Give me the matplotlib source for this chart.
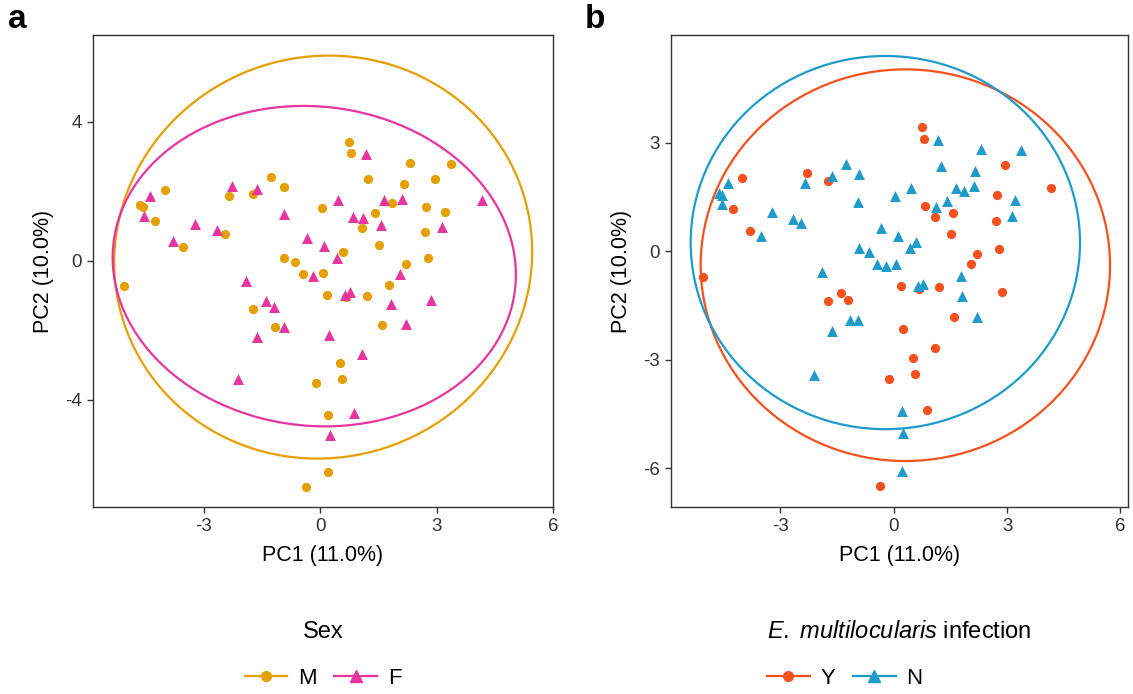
import matplotlib
matplotlib.use("Agg")
import matplotlib.pyplot as plt
from matplotlib.patches import Ellipse
from matplotlib.lines import Line2D

plt.rcParams['font.family'] = ['Liberation Sans', 'DejaVu Sans']
plt.rcParams['mathtext.fontset'] = 'custom'
plt.rcParams['mathtext.rm'] = 'Liberation Sans'
plt.rcParams['mathtext.it'] = 'Liberation Sans:italic'
plt.rcParams['axes.unicode_minus'] = False

# PCA scores (same samples in both panels)
pc1 = [-4.38, -4.00, -4.63, -4.55, -4.53, -4.25, -3.22, -3.80, -3.52, -2.28,
       -2.35, -1.62, -1.73, -1.27, -0.92, -2.65, -2.44, -0.94, 0.04, -0.34,
       0.11, -0.92, -0.64, -0.45, -0.19, 0.07, -1.90, 0.75, 0.79, 1.18,
       2.31, 3.36, 2.95, 1.24, 2.16, 0.47, 1.65, 1.86, 2.12, 2.74,
       3.21, 4.16, 1.41, 0.84, 1.11, 1.09, 1.56, 2.71, 3.14, 1.51,
       0.58, 0.43, 2.78, 2.21, 2.05, 1.77, 0.19, 0.67, 0.65, 0.78,
       1.21, 1.82, 2.86, 1.60, 2.21, 0.24, 1.09, 0.51, 0.56, -0.11,
       0.21, 0.88, 0.26, 0.21, -0.37, -5.04, -1.39, -1.20, -1.74, -1.15,
       -0.94, -1.62, -2.11]
pc2 = [1.88, 2.03, 1.61, 1.56, 1.29, 1.15, 1.07, 0.56, 0.41, 2.16,
       1.87, 2.08, 1.93, 2.41, 2.14, 0.90, 0.77, 1.36, 1.51, 0.65,
       0.42, 0.08, -0.02, -0.37, -0.42, -0.35, -0.57, 3.42, 3.10, 3.08,
       2.82, 2.80, 2.37, 2.36, 2.21, 1.74, 1.74, 1.67, 1.79, 1.56,
       1.40, 1.75, 1.39, 1.25, 1.23, 0.94, 1.04, 0.84, 0.98, 0.46,
       0.25, 0.08, 0.07, -0.08, -0.37, -0.69, -0.97, -1.05, -0.97, -0.90,
       -1.00, -1.23, -1.12, -1.83, -1.81, -2.14, -2.68, -2.95, -3.39, -3.52,
       -4.43, -4.38, -5.02, -6.08, -6.50, -0.72, -1.16, -1.34, -1.39, -1.89,
       -1.91, -2.20, -3.41]
sex = ['F', 'M', 'M', 'M', 'F', 'M', 'F', 'F', 'M', 'F',
       'M', 'F', 'M', 'M', 'M', 'F', 'M', 'F', 'M', 'F',
       'F', 'M', 'M', 'M', 'F', 'M', 'F', 'M', 'M', 'F',
       'M', 'M', 'M', 'M', 'M', 'F', 'F', 'M', 'F', 'M',
       'M', 'F', 'M', 'F', 'F', 'M', 'F', 'M', 'F', 'M',
       'M', 'F', 'M', 'M', 'F', 'M', 'M', 'M', 'F', 'F',
       'M', 'F', 'F', 'M', 'F', 'F', 'F', 'M', 'M', 'M',
       'M', 'F', 'F', 'M', 'M', 'M', 'F', 'F', 'M', 'M',
       'F', 'F', 'F']
infection = ['N', 'Y', 'N', 'N', 'N', 'Y', 'N', 'Y', 'N', 'Y',
             'N', 'N', 'Y', 'N', 'N', 'N', 'N', 'N', 'N', 'N',
             'N', 'N', 'N', 'N', 'N', 'N', 'N', 'Y', 'Y', 'N',
             'N', 'N', 'Y', 'N', 'N', 'N', 'N', 'N', 'N', 'Y',
             'N', 'Y', 'N', 'Y', 'N', 'Y', 'Y', 'Y', 'N', 'Y',
             'N', 'N', 'Y', 'Y', 'Y', 'N', 'Y', 'Y', 'N', 'N',
             'Y', 'N', 'Y', 'Y', 'N', 'Y', 'Y', 'Y', 'Y', 'Y',
             'N', 'Y', 'N', 'N', 'Y', 'Y', 'Y', 'Y', 'Y', 'N',
             'N', 'N', 'N']

# groups, colours and 95% ellipses (centre x, centre y, width, height, angle)
sex_levels = ['M', 'F']
sex_colors = ['#E69F00', '#E7359F']
sex_ell_cx = [0.08, -0.15]
sex_ell_cy = [0.11, -0.15]
sex_ell_w = [10.74, 10.44]
sex_ell_h = [11.62, 9.16]
sex_ell_ang = [-10, -12]

inf_levels = ['Y', 'N']
inf_colors = ['#F5511F', '#1E9BCB']
inf_ell_cx = [0.31, -0.22]
inf_ell_cy = [-0.39, 0.235]
inf_ell_w = [10.83, 10.30]
inf_ell_h = [10.82, 10.31]
inf_ell_ang = [0, 0]

markers = ['o', '^']
msizes = [44, 62]


def draw_panel(ax, groups, levels, colors, ecx, ecy, ew, eh, eang,
               xlim, ylim, yticks, title, align):
    for i, lev in enumerate(levels):
        xs = [x for x, g in zip(pc1, groups) if g == lev]
        ys = [y for y, g in zip(pc2, groups) if g == lev]
        ax.scatter(xs, ys, s=msizes[i], marker=markers[i], color=colors[i],
                   linewidths=0, zorder=3)
        ax.add_patch(Ellipse((ecx[i], ecy[i]), ew[i], eh[i], angle=eang[i],
                             fill=False, ec=colors[i], lw=1.6, zorder=2))
    ax.set_xlim(*xlim)
    ax.set_ylim(*ylim)
    ax.set_xticks([-3, 0, 3, 6])
    ax.set_yticks(yticks)
    ax.set_xlabel('PC1 (11.0%)', fontsize=15.5, labelpad=7)
    ax.set_ylabel('PC2 (10.0%)', fontsize=15.5, labelpad=8)
    for sp in ax.spines.values():
        sp.set_color('#333333')
        sp.set_linewidth(1.0)
    ax.tick_params(direction='out', length=4, width=1, color='#333333',
                   labelsize=13.5, labelcolor='#333333', pad=4)

    handles = [Line2D([], [], color=c, lw=1.6, marker=m, markersize=7 if m == 'o' else 8)
               for c, m in zip(colors, markers)]
    leg = ax.legend(handles, levels, title=title, ncol=2, frameon=False,
                    loc='upper center', bbox_to_anchor=(0.5, -0.2),
                    fontsize=16, title_fontsize=17, handlelength=1.9,
                    handletextpad=0.5, columnspacing=0.8, labelspacing=1.1)
    leg.set_alignment(align)


fig = plt.figure(figsize=(11.33, 6.94), dpi=100)
ax_a = fig.add_axes([93 / 1133, 187 / 694, 460 / 1133, 472 / 694])
ax_b = fig.add_axes([671 / 1133, 187 / 694, 457 / 1133, 472 / 694])

draw_panel(ax_a, sex, sex_levels, sex_colors, sex_ell_cx, sex_ell_cy,
           sex_ell_w, sex_ell_h, sex_ell_ang,
           (-5.85, 5.98), (-7.08, 6.50), [-4, 0, 4], 'Sex', 'center')
draw_panel(ax_b, infection, inf_levels, inf_colors, inf_ell_cx, inf_ell_cy,
           inf_ell_w, inf_ell_h, inf_ell_ang,
           (-5.89, 6.20), (-7.07, 5.97), [-6, -3, 0, 3],
           r'$\mathit{E.}$ $\mathit{multilocularis}$ infection', 'left')

fig.text(8 / 1133, 1 - 4 / 694, 'a', fontsize=24, fontweight='bold', va='top')
fig.text(585 / 1133, 1 - 4 / 694, 'b', fontsize=24, fontweight='bold', va='top')

fig.savefig('out.png', dpi=100)
